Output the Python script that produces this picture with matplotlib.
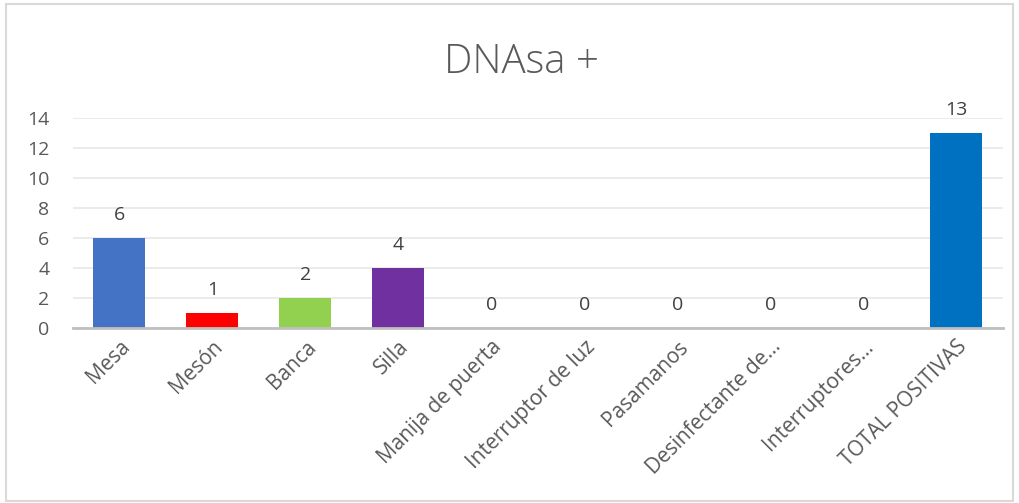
import numpy as np
import matplotlib.pyplot as plt
from matplotlib.patches import Rectangle

# --- Datos ---
categorias = ["Mesa", "Mesón", "Banca", "Silla", "Manija de puerta",
              "Interruptor de luz", "Pasamanos", "Desinfectante de...",
              "Interruptores...", "TOTAL POSITIVAS"]
valores = [6, 1, 2, 4, 0, 0, 0, 0, 0, 13]
colores = ["#4472C4", "#FF0000", "#92D050", "#7030A0", "#4472C4",
           "#4472C4", "#4472C4", "#4472C4", "#4472C4", "#0070C0"]
y_ticks = [0, 2, 4, 6, 8, 10, 12, 14]

plt.rcParams['font.family'] = ['Open Sans', 'DejaVu Sans']
gris = "#595959"

fig = plt.figure(figsize=(10.19, 5.03), dpi=100)
ax = fig.add_axes([0.0716, 0.348, 0.9124, 0.4174])

x = np.arange(len(categorias))
ax.bar(x, valores, width=0.56, color=colores, zorder=3)

for xi, v in zip(x, valores):
    ax.annotate(str(v), (xi, v), xytext=(0, 10), textcoords="offset points",
                ha="center", va="bottom", fontsize=14, color="#404040",
                annotation_clip=False)

ax.set_xlim(-0.5, len(categorias) - 0.5)
ax.set_ylim(0, 14)
ax.set_yticks(y_ticks)
ax.set_xticks(x)
ax.set_xticklabels(categorias, rotation=45, ha="right", rotation_mode="anchor")
ax.tick_params(axis="both", length=0, labelsize=14, colors=gris)
ax.tick_params(axis="x", labelsize=15, pad=6)
ax.tick_params(axis="y", pad=17)

ax.grid(True, axis="y", color="#E8E8E8", linewidth=1.2, zorder=0)
for s in ["top", "right", "left"]:
    ax.spines[s].set_visible(False)
ax.spines["bottom"].set_color("#BFBFBF")
ax.spines["bottom"].set_linewidth(2)
ax.spines["bottom"].set_zorder(4)

fig.text(0.512, 0.875, "DNAsa +", ha="center", va="center",
         fontsize=29, color=gris, fontweight="light")

# Borde del gráfico
fig.patches.append(Rectangle((0.006, 0.004), 0.988, 0.988, transform=fig.transFigure,
                             fill=False, edgecolor="#D9D9D9", linewidth=1.5))

plt.savefig("out.png", dpi=100)
plt.close()
